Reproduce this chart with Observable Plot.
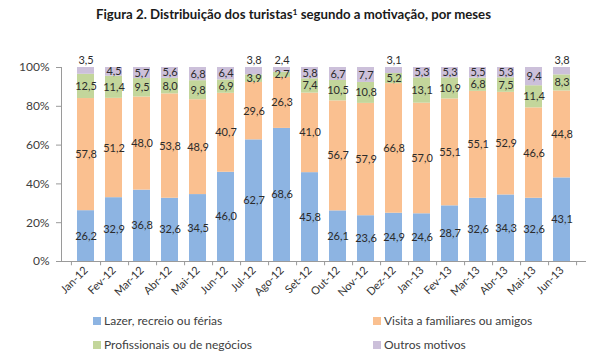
<!DOCTYPE html>
<html>
<head>
<meta charset="utf-8">
<script src="https://cdn.jsdelivr.net/npm/d3@7"></script>
<script src="https://cdn.jsdelivr.net/npm/@observablehq/plot@0.6"></script>
<style>
  html, body { margin: 0; padding: 0; background: #fff; }
  #wrap { position: relative; width: 610px; height: 363px; font-family: Lato, "Open Sans", sans-serif; overflow: hidden; }
  #title { position: absolute; left: 0; top: 0; }
  #chart { position: absolute; left: 0; top: 35px; }
  .leg { position: absolute; font-size: 12px; color: #404040; line-height: 12px; white-space: nowrap; }
  .sw { position: absolute; width: 8px; height: 8px; }
  g[aria-label="y-axis tick"] path { stroke: #9a9a9a; }
</style>
</head>
<body>
<div id="wrap">
  <svg id="title" width="610" height="32">
    <text x="96" y="19" textLength="395" lengthAdjust="spacingAndGlyphs" font-family="Lato, 'Open Sans', sans-serif" font-weight="bold" font-size="12.5" fill="#1a1a1a">Figura 2. Distribuição dos turistas<tspan dy="-4" font-size="8">1</tspan><tspan dy="4"> segundo a motivação, por meses</tspan></text>
  </svg>
  <div id="chart"></div>
  <div id="legend"></div>
</div>
<script>
const months = ["Jan-12","Fev-12","Mar-12","Abr-12","Mai-12","Jun-12","Jul-12","Ago-12","Set-12","Out-12","Nov-12","Dez-12","Jan-13","Fev-13","Mar-13","Abr-13","Mai-13","Jun-13"];
const categories = ["Lazer, recreio ou férias","Visita a familiares ou amigos","Profissionais ou de negócios","Outros motivos"];
const colors = ["#8db4e2","#fac090","#c3d69b","#ccc0da"];
const lazer  = [26.2,32.9,36.8,32.6,34.5,46.0,62.7,68.6,45.8,26.1,23.6,24.9,24.6,28.7,32.6,34.3,32.6,43.1];
const visita = [57.8,51.2,48.0,53.8,48.9,40.7,29.6,26.3,41.0,56.7,57.9,66.8,57.0,55.1,55.1,52.9,46.6,44.8];
const profissionais = [12.5,11.4,9.5,8.0,9.8,6.9,3.9,2.7,7.4,10.5,10.8,5.2,13.1,10.9,6.8,7.5,11.4,8.3];
const outros = [3.5,4.5,5.7,5.6,6.8,6.4,3.8,2.4,5.8,6.7,7.7,3.1,5.3,5.3,5.5,5.3,9.4,3.8];
const yTicks = [0,20,40,60,80,100];

const series = [lazer, visita, profissionais, outros];
const data = [];
months.forEach((m, i) => {
  series.forEach((s, k) => data.push({month: m, cat: categories[k], value: s[i]}));
});
const totals = new Map(months.map((m, i) => [m, d3.sum(series, s => s[i])]));
const fmt = v => v.toFixed(1).replace(".", ",");
const isSmallTop = d => d.cat === categories[3] && d.value < 4;

const W = 610, ML = 61, MR = 24;
const halfStep = (W - ML - MR) / months.length / 2;

const chart = Plot.plot({
  width: W,
  height: 275,
  marginTop: 32,
  marginBottom: 49,
  marginLeft: ML,
  marginRight: MR,
  style: {fontFamily: "Lato, 'Open Sans', sans-serif", color: "#333", background: "transparent"},
  x: {type: "band", domain: months, padding: 0.38, label: null},
  y: {domain: [0, 100], label: null},
  color: {domain: categories, range: colors},
  marks: [
    Plot.barY(data, {x: "month", y: "value", fill: "cat", order: categories}),
    Plot.text(data, Plot.stackY({
      x: "month", y: "value", z: "cat", order: categories,
      filter: d => !isSmallTop(d),
      text: d => fmt(d.value), fontSize: 11, fill: "#2b2b2b"
    })),
    Plot.text(data.filter(isSmallTop), {
      x: "month", y: d => totals.get(d.month), dy: -7,
      text: d => fmt(d.value), fontSize: 11, fill: "#2b2b2b"
    }),
    Plot.frame({anchor: "left", stroke: "#9a9a9a"}),
    Plot.ruleY([0], {stroke: "#9a9a9a"}),
    Plot.ruleX(months, {x: d => d, y1: 0, y2: -2.2, dx: halfStep, stroke: "#9a9a9a"}),
    Plot.ruleX(months.slice(0, 1), {x: d => d, y1: 0, y2: -2.2, dx: -halfStep, stroke: "#9a9a9a"}),
    Plot.axisY({ticks: yTicks, tickFormat: d => d + "%", tickSize: 5, tickPadding: 7, fontSize: 12, fill: "#404040"}),
    Plot.axisX({tickSize: 0, tickPadding: 7, tickRotate: -45, fontSize: 11, fill: "#333"})
  ]
});
document.getElementById("chart").appendChild(chart);

const legendPos = [[93, 317], [373, 317], [93, 341], [373, 341]];
const legend = document.getElementById("legend");
categories.forEach((c, k) => {
  const [lx, ly] = legendPos[k];
  const sw = document.createElement("div");
  sw.className = "sw";
  sw.style.left = lx + "px"; sw.style.top = ly + "px"; sw.style.background = colors[k];
  legend.appendChild(sw);
  const t = document.createElement("div");
  t.className = "leg";
  t.style.left = (lx + 11) + "px"; t.style.top = (ly - 2) + "px";
  t.textContent = c;
  legend.appendChild(t);
});
</script>
</body>
</html>
